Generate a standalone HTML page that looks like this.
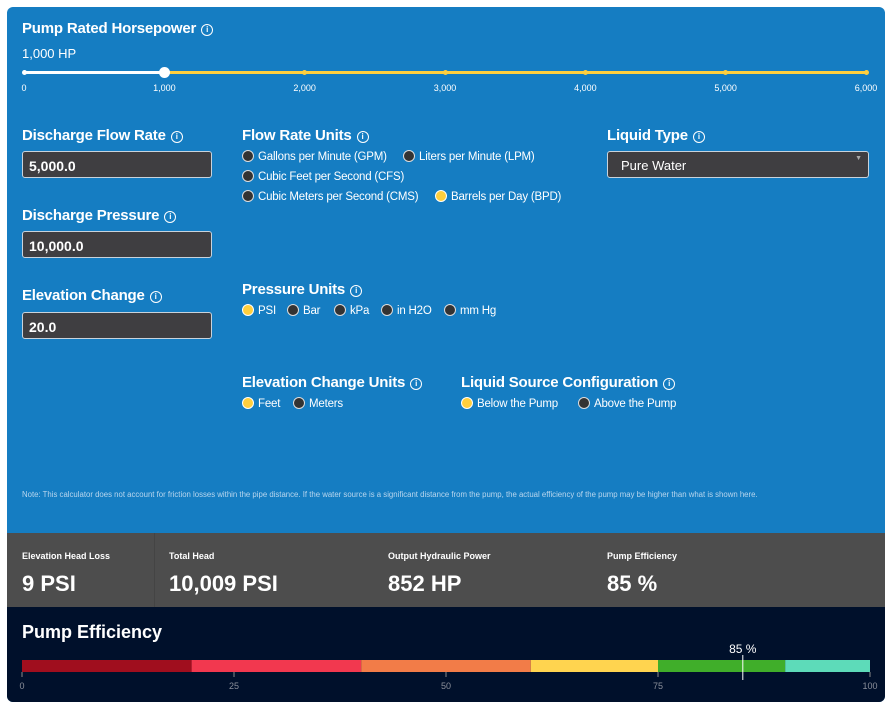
<!DOCTYPE html>
<html><head><meta charset="utf-8">
<style>
body{margin:0;width:893px;height:710px;background:#fff;font-family:"Liberation Sans",sans-serif;position:relative;overflow:hidden}
.a{position:absolute;white-space:nowrap}
.h{font-weight:bold;font-size:15px;color:#fff;letter-spacing:-0.2px}
.i{display:inline-block;width:10px;height:10px;border:1.5px solid #fff;border-radius:50%;font-size:8px;line-height:10px;text-align:center;vertical-align:1px;margin-left:5px;font-weight:bold}
.inp{position:absolute;background:#3f3e41;border:1px solid #c9d3dc;border-radius:3px;color:#fff;font-weight:bold;font-size:14px;box-sizing:border-box;padding:6px 0 0 6px}
.r{position:absolute;font-size:11.5px;color:#fff;white-space:nowrap;letter-spacing:-0.2px}
.r:before{content:"";display:inline-block;width:10px;height:10px;border-radius:50%;background:#333;border:1px solid #ddd;vertical-align:-2px;margin-right:4px}
.r.on:before{background:#ffcf3e;border-color:#fff}
.tk{position:absolute;font-size:9px;color:#fff;top:83px;transform:translateX(-50%)}
.sl{font-size:9px;font-weight:bold;color:#fff;position:absolute;top:551px}
.sv{font-size:22px;font-weight:bold;color:#fff;position:absolute;top:571px}
</style></head><body>
<div class="a" style="left:7px;top:7px;width:878px;height:695px;border-radius:6px;overflow:hidden;background:#157dc2">
</div>
<div class="a" style="left:7px;top:533px;width:878px;height:74px;background:#4d4d4d"></div>
<div class="a" style="left:154px;top:533px;width:1px;height:74px;background:#444"></div>
<div class="a" style="left:7px;top:607px;width:878px;height:95px;background:#00102b;border-radius:0 0 6px 6px"></div>

<div class="a h" style="left:22px;top:20px">Pump Rated Horsepower<span class="i">i</span></div>
<div class="a" style="left:22px;top:46px;color:#fff;font-size:13px">1,000 HP</div>
<div class="a" style="left:24px;top:71px;width:141px;height:3px;background:#fff"></div>
<div class="a" style="left:165px;top:71px;width:701px;height:3px;background:#ffcf3e"></div>
<div id="ticks"></div>
<div class="a" style="left:159px;top:67px;width:11px;height:11px;border-radius:50%;background:#fff"></div>

<div class="a h" style="left:22px;top:127px">Discharge Flow Rate<span class="i">i</span></div>
<div class="inp" style="left:22px;top:151px;width:190px;height:27px">5,000.0</div>
<div class="a h" style="left:22px;top:207px">Discharge Pressure<span class="i">i</span></div>
<div class="inp" style="left:22px;top:231px;width:190px;height:27px">10,000.0</div>
<div class="a h" style="left:22px;top:287px">Elevation Change<span class="i">i</span></div>
<div class="inp" style="left:22px;top:312px;width:190px;height:27px">20.0</div>

<div class="a h" style="left:242px;top:127px">Flow Rate Units<span class="i">i</span></div>
<div class="r" style="left:242px;top:150px">Gallons per Minute (GPM)</div>
<div class="r" style="left:403px;top:150px">Liters per Minute (LPM)</div>
<div class="r" style="left:242px;top:170px">Cubic Feet per Second (CFS)</div>
<div class="r" style="left:242px;top:190px">Cubic Meters per Second (CMS)</div>
<div class="r on" style="left:435px;top:190px">Barrels per Day (BPD)</div>

<div class="a h" style="left:607px;top:127px">Liquid Type<span class="i">i</span></div>
<div class="inp" style="left:607px;top:151px;width:262px;height:27px;font-weight:normal;font-size:13px;padding:6px 0 0 13px">Pure Water<span style="position:absolute;right:6px;top:3px;font-size:7px;color:#aaa">▼</span></div>

<div class="a h" style="left:242px;top:281px">Pressure Units<span class="i">i</span></div>
<div class="r on" style="left:242px;top:304px">PSI</div>
<div class="r" style="left:287px;top:304px">Bar</div>
<div class="r" style="left:334px;top:304px">kPa</div>
<div class="r" style="left:381px;top:304px">in H2O</div>
<div class="r" style="left:444px;top:304px">mm Hg</div>

<div class="a h" style="left:242px;top:374px">Elevation Change Units<span class="i">i</span></div>
<div class="r on" style="left:242px;top:397px">Feet</div>
<div class="r" style="left:293px;top:397px">Meters</div>
<div class="a h" style="left:461px;top:374px">Liquid Source Configuration<span class="i">i</span></div>
<div class="r on" style="left:461px;top:397px">Below the Pump</div>
<div class="r" style="left:578px;top:397px">Above the Pump</div>

<div class="a" style="left:22px;top:490px;font-size:7.8px;color:#b8d6ee">Note: This calculator does not account for friction losses within the pipe distance. If the water source is a significant distance from the pump, the actual efficiency of the pump may be higher than what is shown here.</div>

<div class="sl" style="left:22px">Elevation Head Loss</div>
<div class="sv" style="left:22px">9 PSI</div>
<div class="sl" style="left:169px">Total Head</div>
<div class="sv" style="left:169px">10,009 PSI</div>
<div class="sl" style="left:388px">Output Hydraulic Power</div>
<div class="sv" style="left:388px">852 HP</div>
<div class="sl" style="left:607px">Pump Efficiency</div>
<div class="sv" style="left:607px">85 %</div>

<div class="a" style="left:22px;top:622px;font-size:18px;font-weight:bold;color:#fff">Pump Efficiency</div>
<svg class="a" style="left:0;top:630px" width="893" height="80" id="g"></svg>

<script>
const sliderTicks=[0,1000,2000,3000,4000,5000,6000];
const sliderValue=1000;
const segStarts=[0,20,40,60,75,90];
const segEnds=[20,40,60,75,90,100];
const segColors=["#a00e1e","#f2384f","#f27c48","#ffd44f","#40ae2a","#5ddbb9"];
const axisTicks=[0,25,50,75,100];
const efficiency=85;

const sx=v=>24+v/6000*842;
const tk=document.getElementById('ticks');
sliderTicks.forEach(t=>{
  const l=document.createElement('div');
  l.className='tk';l.style.left=sx(t)+'px';l.textContent=t.toLocaleString('en-US');
  
  
  tk.appendChild(l);
  const d=document.createElement('div');
  d.className='a';
  d.style.cssText=`left:${sx(t)-2.5}px;top:70px;width:5px;height:5px;border-radius:50%;background:${t<=sliderValue?'#fff':'#ffcf3e'}`;
  
  
  tk.appendChild(d);
});

const NS='http://www.w3.org/2000/svg';
const g=document.getElementById('g');
const x=v=>22+v/100*848;
function el(n,a){const e=document.createElementNS(NS,n);for(const k in a)e.setAttribute(k,a[k]);g.appendChild(e);return e;}
segStarts.forEach((s,i)=>{
  const r=el('rect',{x:x(s),y:30,width:x(segEnds[i])-x(s),height:12,fill:segColors[i]});
  
  
});
axisTicks.forEach(t=>{
  el('line',{x1:x(t),x2:x(t),y1:42,y2:47,stroke:'#888','stroke-width':1});
  const tx=el('text',{x:x(t),y:59,'text-anchor':'middle','font-size':9,fill:'#8a8f9a','font-family':'Liberation Sans'});
  tx.textContent=t;
  
  
});
const m=el('line',{x1:x(efficiency),x2:x(efficiency),y1:25,y2:50,stroke:'#fff','stroke-width':1});


const ml=el('text',{x:x(efficiency),y:23,'text-anchor':'middle','font-size':12,fill:'#fff','font-family':'Liberation Sans'});
ml.textContent=efficiency+' %';


</script>
</body></html>
